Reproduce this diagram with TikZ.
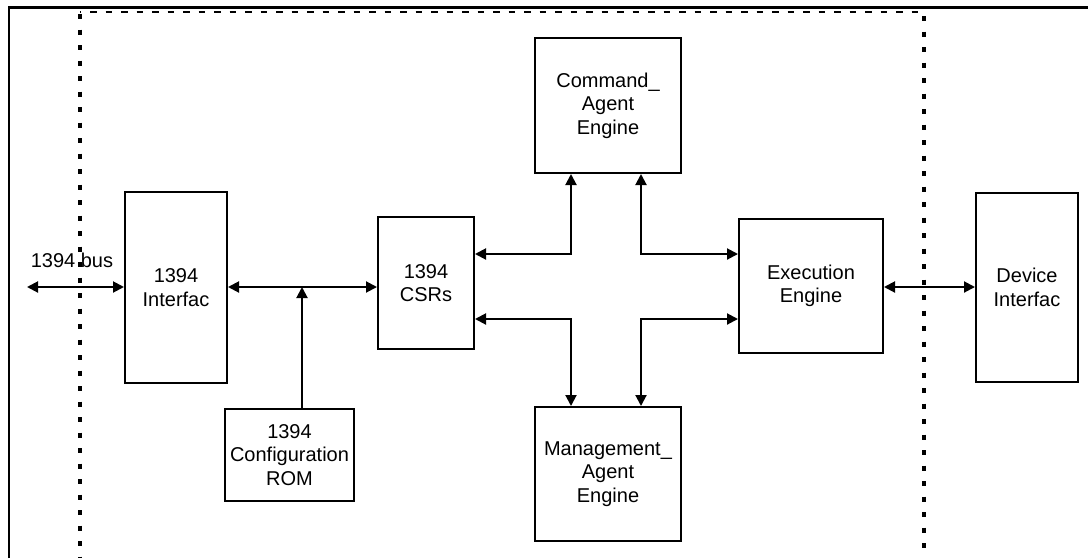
\documentclass[tikz,border=0pt]{standalone}
\usepackage{fontspec}
\setmainfont{Liberation Sans}
\usetikzlibrary{arrows.meta}
\begin{document}
\begin{tikzpicture}[x=1pt,y=-1pt,
  box/.style={draw=black, line width=2pt, anchor=north west, inner sep=0pt, align=center,
    font=\fontsize{20}{23.5}\selectfont},
  lbl/.style={inner sep=0pt, font=\fontsize{20}{23.5}\selectfont},
  arr/.style={line width=2pt, {Triangle[length=11pt,width=11pt]}-{Triangle[length=11pt,width=11pt]}},
  uarr/.style={line width=2pt, -{Triangle[length=11pt,width=11pt]}},
  dashv/.style={line width=3.3pt, dash pattern=on 5pt off 10.5pt},
  dashh/.style={line width=2.8pt, dash pattern=on 6.5pt off 9pt}]
\useasboundingbox (0,0) rectangle (1088,558);
% outer frame
\draw[line width=2.5pt] (9,558) -- (9,7.5) -- (1088,7.5);
% dashed boundary
\draw[dashv, dash phase=-2] (80,12) -- (80,558);
\draw[dashh, dash phase=-10] (80,12) -- (924,12);
\draw[dashv, dash phase=-4] (924,12) -- (924,558);
% boxes
\node[box, minimum width=102pt, minimum height=191pt] (ifc) at (124,191) {1394\\Interfac};
\node[box, minimum width=96pt, minimum height=132pt] (csr) at (377,216) {1394\\CSRs};
\node[box, minimum width=146pt, minimum height=135pt] (cmd) at (534,37) {Command\_\\Agent\\Engine};
\node[box, minimum width=144pt, minimum height=134pt] (exe) at (738,218) {Execution\\Engine};
\node[box, minimum width=102pt, minimum height=189pt] (dev) at (975,192) {Device\\Interfac};
\node[box, minimum width=129pt, minimum height=92pt] (rom) at (224,408) {1394\\Configuration\\ROM};
\node[box, minimum width=146pt, minimum height=134pt] (mgt) at (534,406) {Management\_\\Agent\\Engine};
% bus label
\node[lbl] (bus) at (72,260) {1394 bus};
\coordinate (busend) at (27,287);
\coordinate (j) at (302,287);
\coordinate (ul) at (571,254);
\coordinate (ll) at (571,319);
\coordinate (ur) at (641,254);
\coordinate (lr) at (641,319);
\coordinate (ex) at (882,287);
% connectors
\draw[arr] (busend) -- (ifc.west |- busend);
\draw[arr] (ifc.east |- j) -- (csr.west |- j);
\draw[uarr] (rom.north -| j) -- (j);
\draw[arr] (csr.east |- ul) -- (ul) -- (cmd.south -| ul);
\draw[arr] (csr.east |- ll) -- (ll) -- (mgt.north -| ll);
\draw[arr] (cmd.south -| ur) -- (ur) -- (exe.west |- ur);
\draw[arr] (mgt.north -| lr) -- (lr) -- (exe.west |- lr);
\draw[arr] (exe.east |- ex) -- (dev.west |- ex);
\end{tikzpicture}
\end{document}
